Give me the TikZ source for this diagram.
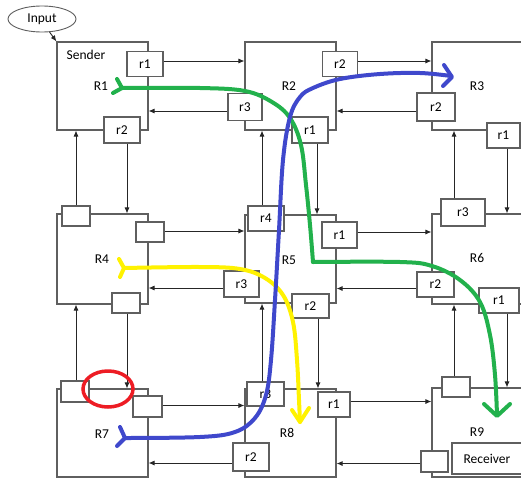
\documentclass[tikz,border=0pt]{standalone}
\usepackage{fontspec}
\setmainfont{Carlito}
\usetikzlibrary{arrows.meta,shapes.geometric}
\definecolor{pgreen}{RGB}{34,177,76}
\definecolor{pblue}{RGB}{63,72,204}
\definecolor{pyellow}{RGB}{255,242,0}
\definecolor{pred}{RGB}{237,28,36}
\definecolor{boxgray}{RGB}{95,95,95}
\begin{document}
\begin{tikzpicture}[x=1pt,y=-1pt,
  every node/.style={font=\fontsize{13.5}{15}\selectfont},
  bigbox/.style={draw=boxgray, line width=1.1pt, fill=white, inner sep=0pt, minimum width=91pt, minimum height=88pt},
  widebox/.style={bigbox, minimum width=100pt},
  smallbox/.style={draw=boxgray, line width=1.1pt, fill=white, inner sep=0pt},
  lbl/.style={inner sep=0pt},
  arr/.style={draw=black!85, line width=0.9pt, -{Latex[length=6pt,width=5pt]}},
  colpath/.style={line width=4pt, line cap=round, line join=round},
]
\useasboundingbox (0,0) rectangle (521,479);
\clip (0,0) rectangle (521,479);
\fill[white] (0,0) rectangle (521,479);

% big boxes
\node[bigbox] (R1) at (102.5,86) {};
\node[bigbox] (R2) at (290.5,86) {};
\node[widebox] (R3) at (482,86) {};
\node[bigbox, minimum height=90pt] (R4) at (102.5,259) {};
\node[bigbox, minimum height=88pt] (R5) at (290.5,259) {};
\node[widebox, minimum height=90pt] (R6) at (482,259) {};
\node[bigbox] (R7) at (102.5,433) {};
\node[bigbox] (R8) at (290.5,433) {};
\node[widebox, minimum height=89pt] (R9) at (482,432.5) {};

% input
\node[draw=boxgray, line width=0.9pt, ellipse, minimum width=68pt, minimum height=26pt, inner sep=0pt, fill=white] (Input) at (42,19) {Input};

% small boxes
\node[smallbox, minimum width=36pt, minimum height=25pt] (R1r1) at (145,64) {r1};
\node[smallbox, minimum width=36pt, minimum height=26pt] (R1r2) at (122,130) {r2};
\node[smallbox, minimum width=34pt, minimum height=27pt] (R2r3) at (245,107) {r3};
\node[smallbox, minimum width=35pt, minimum height=25pt] (R2r2) at (340,64) {r2};
\node[smallbox, minimum width=36pt, minimum height=26pt] (R2r1) at (310,130) {r1};
\node[smallbox, minimum width=38pt, minimum height=28pt] (R3r2) at (436,107) {r2};
\node[smallbox, minimum width=33pt, minimum height=25pt] (R3r1) at (503.5,135.5) {r1};
\node[smallbox, minimum width=28pt, minimum height=20pt] (R4a) at (76,216) {};
\node[smallbox, minimum width=28pt, minimum height=20pt] (R4b) at (150,232) {};
\node[smallbox, minimum width=28pt, minimum height=20pt] (R4c) at (126,303) {};
\node[smallbox, minimum width=36pt, minimum height=25pt] (R5r4) at (266,218.5) {r4};
\node[smallbox, minimum width=35pt, minimum height=26pt] (R5r1) at (339.5,235) {r1};
\node[smallbox, minimum width=35pt, minimum height=26pt] (R5r3) at (241.5,284) {r3};
\node[smallbox, minimum width=37pt, minimum height=24pt] (R5r2) at (310.5,306) {r2};
\node[smallbox, minimum width=44pt, minimum height=27pt] (R6r3) at (463,212.5) {r3};
\node[smallbox, minimum width=37pt, minimum height=25pt] (R6r2) at (435.5,284.5) {r2};
\node[smallbox, minimum width=40pt, minimum height=25pt] (R6r1) at (499,300.5) {r1};
\node[smallbox, minimum width=28pt, minimum height=21pt] (R7a) at (75,391.5) {};
\node[smallbox, minimum width=29pt, minimum height=21pt] (R7b) at (147.5,406.5) {};
\node[smallbox, minimum width=37pt, minimum height=24pt] (R8r3) at (265.5,394) {r3};
\node[smallbox, minimum width=32pt, minimum height=25pt] (R8r1) at (334,404.5) {r1};
\node[smallbox, minimum width=36pt, minimum height=28pt] (R8r2) at (251,457) {r2};
\node[smallbox, minimum width=28pt, minimum height=20pt] (R9a) at (456,387) {};
\node[smallbox, minimum width=27pt, minimum height=21pt] (R9b) at (434.5,461.5) {};
\node[smallbox, minimum width=70pt, minimum height=31pt] (Recv) at (487,458.5) {Receiver};

% labels
\node[lbl] (lSender) at (86,55) {Sender};
\node[lbl] (l1) at (101,86) {R1};
\node[lbl] (l2) at (289,86) {R2};
\node[lbl] (l3) at (477,86) {R3};
\node[lbl] (l4) at (102,259) {R4};
\node[lbl] (l5) at (289,260) {R5};
\node[lbl] (l6) at (477,258) {R6};
\node[lbl] (l7) at (102,434) {R7};
\node[lbl] (l8) at (287,433) {R8};
\node[lbl] (l9) at (477,432) {R9};

% input arrow
\draw[arr] (Input.-60) -- (R1.north west);

% horizontal connectors
\coordinate (h1) at ([yshift=3pt]R1r1.east);  \draw[arr] (h1) -- (h1 -| R2.west);
\coordinate (h2) at ([yshift=-4pt]R2r3.west); \draw[arr] (h2) -- (h2 -| R1.east);
\coordinate (h3) at ([yshift=3pt]R2r2.east);  \draw[arr] (h3) -- (h3 -| R3.west);
\coordinate (h4) at ([yshift=-4pt]R3r2.west); \draw[arr] (h4) -- (h4 -| R2.east);
\coordinate (h5) at ([yshift=1pt]R4b.east);   \draw[arr] (h5) -- (h5 -| R5.west);
\coordinate (h6) at ([yshift=-4pt]R5r3.west); \draw[arr] (h6) -- (h6 -| R4.east);
\coordinate (h7) at ([yshift=3pt]R5r1.east);  \draw[arr] (h7) -- (h7 -| R6.west);
\coordinate (h8) at ([yshift=-4pt]R6r2.west); \draw[arr] (h8) -- (h8 -| R5.east);
\coordinate (h9) at ([yshift=1pt]R7b.east);   \draw[arr] (h9) -- (h9 -| R8.west);
\coordinate (h10) at ([yshift=-6pt]R8r2.west); \draw[arr] (h10) -- (h10 -| R7.east);
\coordinate (h11) at ([yshift=3pt]R8r1.east);  \draw[arr] (h11) -- (h11 -| R9.west);
\coordinate (h12) at ([yshift=-2pt]R9b.west);  \draw[arr] (h12) -- (h12 -| R8.east);

% vertical connectors
\coordinate (v1) at (R4a.north);               \draw[arr] (v1) -- (v1 |- R1.south);
\coordinate (v2) at ([xshift=5pt]R1r2.south);  \draw[arr] (v2) -- (v2 |- R4.north);
\coordinate (v3) at ([xshift=-4pt]R5r4.north); \draw[arr] (v3) -- (v3 |- R2.south);
\coordinate (v4) at ([xshift=7pt]R2r1.south);  \draw[arr] (v4) -- (v4 |- R5.north);
\coordinate (v5) at ([xshift=-9pt]R6r3.north); \draw[arr] (v5) -- (v5 |- R3.south);
\coordinate (v6) at ([xshift=3.5pt]R3r1.south);\draw[arr] (v6) -- (v6 |- R6.north);
\coordinate (v7) at ([xshift=1pt]R7a.north);   \draw[arr] (v7) -- (v7 |- R4.south);
\coordinate (v8) at ([xshift=1pt]R4c.south);   \draw[arr] (v8) -- (v8 |- R7.north);
\coordinate (v9) at ([xshift=-3.5pt]R8r3.north);\draw[arr] (v9) -- (v9 |- R5.south);
\coordinate (v10) at ([xshift=7.5pt]R5r2.south);\draw[arr] (v10) -- (v10 |- R8.north);
\coordinate (v11) at ([xshift=-2pt]R9a.north); \draw[arr] (v11) -- (v11 |- R6.south);
\coordinate (v12) at ([xshift=8pt]R6r1.south); \draw[arr] (v12) -- (v12 |- R9.north);

% green path
\draw[colpath, pgreen] plot[smooth, tension=0.6] coordinates {(122,88) (200,88) (245,91) (272,102) (290,118) (301,145) (306,185) (310,225) (313,262)};
\draw[colpath, pgreen] plot[smooth, tension=0.6] coordinates {(313,262) (400,262) (432,266) (460,280) (480,302) (490,335) (495,375) (497,415)};
\draw[colpath, pgreen] (117,79) -- (122,88) -- (113,93);
\draw[colpath, pgreen] (484,404) -- (497,416) -- (510,404);

% yellow path
\draw[colpath, pyellow] plot[smooth, tension=0.6] coordinates {(124,268) (200,267) (240,269) (265,278) (283,295) (293,322) (297,360) (299,400) (300,422)};
\draw[colpath, pyellow] (119,259) -- (124,268) -- (120,277);
\draw[colpath, pyellow] (292,410) -- (300,422) -- (309,408);

% blue path
\draw[colpath, pblue] plot[smooth, tension=0.6] coordinates {(125,438) (200,437) (235,432) (255,418) (266,395) (271,360) (275,300) (279,230) (283,160) (290,117) (300,97) (313,88) (340,79) (380,74) (420,73) (451,76)};
\draw[colpath, pblue] (120,427) -- (125,438) -- (117,446);
\draw[colpath, pblue] (444,65) -- (452,77) -- (443,86);

% red ellipse
\draw[pred, line width=3.5pt] (108,389) ellipse [x radius=25, y radius=18];
\end{tikzpicture}
\end{document}
